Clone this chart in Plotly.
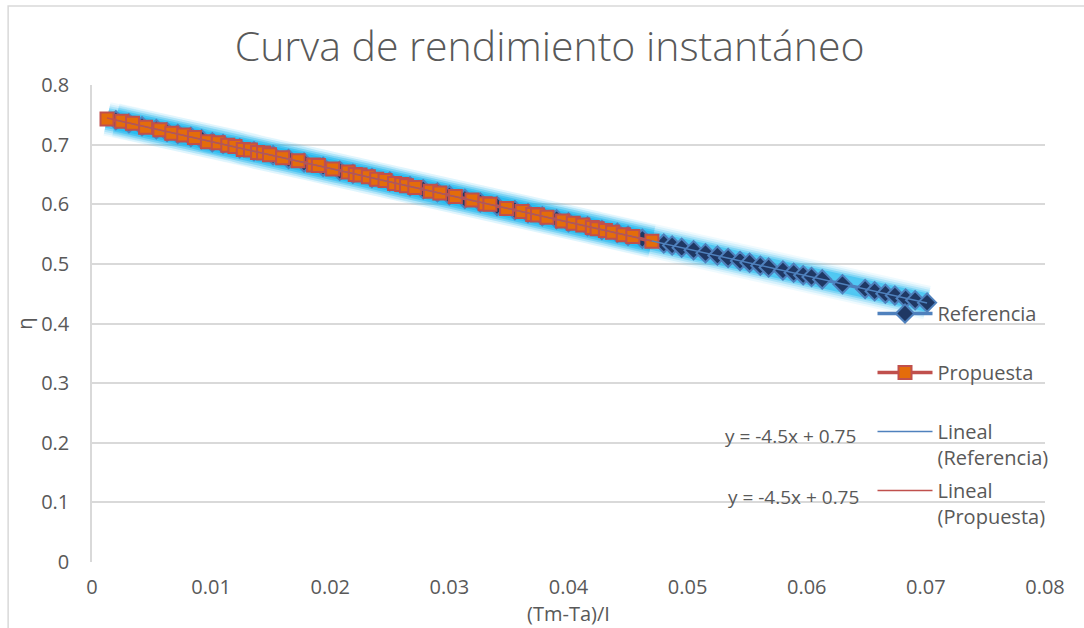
import numpy as np
import plotly.graph_objects as go

# ---------------- data ----------------
ref_x = [0.0020, 0.0031, 0.0042, 0.0054, 0.0063, 0.0072, 0.0083, 0.0092, 0.0101, 0.0110,
         0.0124, 0.0136, 0.0152, 0.0165, 0.0178, 0.0194, 0.0208, 0.0219, 0.0235, 0.0250,
         0.0267, 0.0278, 0.0290, 0.0300, 0.0313, 0.0326, 0.0340, 0.0355, 0.0366, 0.0378,
         0.0390, 0.0400, 0.0416, 0.0428, 0.0441, 0.0450, 0.0462, 0.0480, 0.0487, 0.0495,
         0.0505, 0.0515, 0.0525, 0.0534, 0.0544, 0.0552, 0.0561, 0.0568, 0.0580, 0.0589,
         0.0597, 0.0604, 0.0613, 0.0630, 0.0649, 0.0657, 0.0666, 0.0674, 0.0683, 0.0691,
         0.0701]
ref_y = [0.741, 0.736, 0.731, 0.726, 0.721, 0.718, 0.713, 0.709, 0.704, 0.701,
         0.694, 0.689, 0.682, 0.676, 0.670, 0.663, 0.656, 0.651, 0.644, 0.638,
         0.630, 0.625, 0.620, 0.615, 0.609, 0.603, 0.597, 0.590, 0.585, 0.580,
         0.575, 0.570, 0.563, 0.557, 0.552, 0.547, 0.542, 0.534, 0.531, 0.527,
         0.523, 0.518, 0.514, 0.510, 0.505, 0.502, 0.497, 0.494, 0.489, 0.485,
         0.481, 0.478, 0.474, 0.466, 0.458, 0.454, 0.450, 0.447, 0.442, 0.439,
         0.435]

prop_x = [0.00126, 0.0025, 0.0034, 0.0045, 0.0057, 0.0067, 0.0077, 0.0086, 0.0097, 0.0106,
          0.0114, 0.0120, 0.0127, 0.0133, 0.0139, 0.0144, 0.0149, 0.0160, 0.0173, 0.0186,
          0.0190, 0.0202, 0.0215, 0.0221, 0.0225, 0.0232, 0.0239, 0.0246, 0.0254, 0.0260,
          0.0264, 0.0271, 0.0284, 0.0292, 0.0305, 0.0319, 0.0330, 0.0334, 0.0348, 0.0361,
          0.0370, 0.0374, 0.0382, 0.0395, 0.0404, 0.0412, 0.0420, 0.0424, 0.0431, 0.0437,
          0.0446, 0.0454, 0.0470]
prop_y = [0.743, 0.739, 0.736, 0.729, 0.725, 0.719, 0.716, 0.712, 0.705, 0.703,
          0.699, 0.697, 0.692, 0.691, 0.687, 0.686, 0.683, 0.678, 0.673, 0.666,
          0.665, 0.659, 0.654, 0.650, 0.649, 0.646, 0.642, 0.640, 0.635, 0.633,
          0.631, 0.628, 0.622, 0.619, 0.613, 0.607, 0.601, 0.600, 0.593, 0.588,
          0.583, 0.582, 0.578, 0.572, 0.568, 0.565, 0.561, 0.559, 0.556, 0.553,
          0.549, 0.546, 0.538]

series_names = ["Referencia", "Propuesta", "Lineal<br>(Referencia)", "Lineal<br>(Propuesta)"]
eq_labels = ["y = -4.5x + 0.75", "y = -4.5x + 0.75"]
x_ticks = [0, 0.01, 0.02, 0.03, 0.04, 0.05, 0.06, 0.07, 0.08]
y_ticks = [0, 0.1, 0.2, 0.3, 0.4, 0.5, 0.6, 0.7, 0.8]

FONT = "Open Sans"
GREY = "#595959"
GLOW = "30,185,240"

fig = go.Figure()

# glow (Excel glow effect) under both series
for xs, ys, grp in [(ref_x, ref_y, "g1"), (prop_x, prop_y, "g2")]:
    for w, a in [(34, 0.07), (30, 0.12), (26, 0.2), (22, 0.32), (18, 0.5)]:
        fig.add_trace(go.Scatter(x=xs, y=ys, mode="lines", hoverinfo="skip",
                                 line=dict(color=f"rgba({GLOW},{a})", width=w),
                                 showlegend=False, legendgroup=grp))

fig.add_trace(go.Scatter(x=ref_x, y=ref_y, mode="lines+markers", name=series_names[0] + "<br> ",
                         legendgroup="a",
                         line=dict(color="#4F81BD", width=3.5),
                         marker=dict(symbol="diamond", size=14, color="#1F3864",
                                     line=dict(color="#4F81BD", width=2))))
fig.add_trace(go.Scatter(x=prop_x, y=prop_y, mode="lines+markers", name=series_names[1] + "<br> ",
                         legendgroup="b",
                         line=dict(color="#C0504D", width=3.5),
                         marker=dict(symbol="square", size=13, color="#E46C0A",
                                     line=dict(color="#C0504D", width=2))))

# linear trendlines
for xs, ys, nm, col, grp in [(ref_x, ref_y, series_names[2], "#4F81BD", "c"),
                             (prop_x, prop_y, series_names[3], "#C0504D", "d")]:
    m, b = np.polyfit(xs, ys, 1)
    tx = np.array([min(xs), max(xs)])
    fig.add_trace(go.Scatter(x=tx, y=m * tx + b, mode="lines", name=nm, legendgroup=grp,
                             line=dict(color=col, width=1.5)))

fig.add_annotation(x=0.0586, y=0.211, text=eq_labels[0], showarrow=False,
                   font=dict(family=FONT, size=19, color=GREY))
fig.add_annotation(x=0.0589, y=0.109, text=eq_labels[1], showarrow=False,
                   font=dict(family=FONT, size=19, color=GREY))

# chart outer border (top and left visible)
fig.add_shape(type="rect", xref="paper", yref="paper",
              x0=-0.088, x1=1.2, y0=-0.3, y1=1.1656,
              line=dict(color="#D9D9D9", width=1.5), layer="below")

fig.update_layout(
    width=1084, height=628,
    margin=dict(l=92, r=39, t=85, b=66, autoexpand=False),
    paper_bgcolor="white", plot_bgcolor="white",
    font=dict(family=FONT, color=GREY, size=20),
    title=dict(text="Curva de rendimiento instantáneo", x=0.507, xanchor="center",
               y=0.925, yanchor="middle",
               font=dict(family="Open Sans", size=41, color=GREY, weight=300)),
    legend=dict(x=0.819, xanchor="left", y=0.562, yanchor="top",
                bgcolor="rgba(0,0,0,0)", font=dict(size=20, color=GREY),
                traceorder="grouped", tracegroupgap=4, valign="top", itemwidth=55),
    showlegend=True,
)
fig.update_xaxes(range=[0, 0.08], tickvals=x_ticks, ticktext=[f"{v:g}" for v in x_ticks],
                 showgrid=False, zeroline=False, showline=False, automargin=False,
                 ticklabelstandoff=11,
                 title=dict(text="(Tm-Ta)/I", font=dict(size=20, color=GREY), standoff=6),
                 tickfont=dict(size=20, color=GREY))
fig.update_yaxes(range=[0, 0.8], tickvals=y_ticks, ticktext=[f"{v:g}" for v in y_ticks],
                 showgrid=True, gridcolor="#D9D9D9", gridwidth=1.5, automargin=False,
                 zeroline=False, showline=True, linecolor="#D9D9D9", linewidth=1.5,
                 ticklabelstandoff=17,
                 title=dict(text="η", font=dict(size=20, color=GREY), standoff=3),
                 tickfont=dict(size=20, color=GREY))

fig.write_html("out.html")
